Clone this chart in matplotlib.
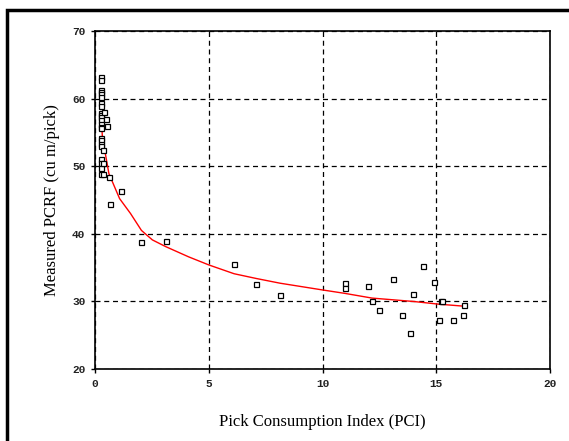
import matplotlib.pyplot as plt
from matplotlib.patches import Rectangle

# measured points
pci = [
	0.25, 0.25, 0.25, 0.25, 0.25, 0.25, 0.25, 0.25, 0.25, 0.25, 0.25, 0.25,
	0.25, 0.25, 0.25, 0.25, 0.25, 0.25, 0.25, 0.25, 0.25, 0.25, 0.25,
	0.41, 0.48, 0.53, 0.37, 0.33, 0.37, 0.61, 0.67, 1.13, 2.04, 3.11,
	6.11, 7.08, 8.13, 10.97, 10.97, 12.01, 12.17, 12.47, 13.08, 13.48,
	13.83, 13.99, 14.39, 14.90, 15.10, 15.20, 15.26, 15.73, 16.17, 16.22,
]
pcrf = [
	63.2, 62.7, 61.3, 61.0, 60.7, 60.2, 59.4, 58.9, 57.8, 57.5, 57.3, 56.8,
	56.3, 55.8, 55.6, 54.1, 53.8, 53.3, 53.0, 51.1, 50.4, 49.7, 48.9,
	58.0, 56.9, 55.9, 52.4, 50.5, 48.9, 48.4, 44.4, 46.4, 38.8, 39.0,
	35.6, 32.6, 30.9, 32.8, 32.0, 32.3, 30.0, 28.8, 33.3, 28.0,
	25.4, 31.1, 35.2, 32.9, 27.2, 30.1, 30.1, 27.2, 28.0, 29.5,
]

# fitted trend line
fit_x = [0.29, 0.33, 0.45, 0.61, 1.08, 1.56, 2.04, 2.52, 3.11, 4.11, 5.0,
	6.11, 7.08, 8.13, 10.0, 10.97, 12.17, 13.99, 15.1, 16.22]
fit_y = [56.5, 53.8, 51.9, 48.9, 45.2, 43.0, 40.5, 39.1, 38.1, 36.6, 35.4,
	34.1, 33.4, 32.7, 31.7, 31.2, 30.5, 30.0, 29.6, 29.3]

x_ticks = [0, 5, 10, 15, 20]
y_ticks = [20, 30, 40, 50, 60, 70]

fig = plt.figure(figsize=(5.69, 4.41), dpi=100)
ax = fig.add_axes([0.167, 0.163, 0.800, 0.767])

# outer frame
fig.patches.append(Rectangle((0.013, -0.2), 1.2, 1.178, transform=fig.transFigure,
	fill=False, edgecolor='black', linewidth=2.5))

ax.plot(fit_x, fit_y, color='red', linewidth=1, zorder=3)
ax.plot(pci, pcrf, linestyle='none', marker='s', markersize=3.6,
	markerfacecolor='white', markeredgecolor='black', markeredgewidth=0.9, zorder=4)

ax.set_xlim(0, 20)
ax.set_ylim(20, 70)
ax.set_xticks(x_ticks)
ax.set_yticks(y_ticks)
ax.grid(True, color='black', linestyle=(0, (4, 3)), linewidth=0.9)
ax.set_axisbelow(True)

for side in ['top', 'right']:
	ax.spines[side].set_linestyle((0, (3, 1)))
	ax.spines[side].set_linewidth(1.2)
for side in ['left', 'bottom']:
	ax.spines[side].set_linewidth(1.2)

ax.tick_params(direction='out', length=3, width=1, pad=4)
for lab in ax.get_xticklabels() + ax.get_yticklabels():
	lab.set_family('Liberation Mono')
	lab.set_weight('bold')
	lab.set_fontsize(8)
	lab.set_color('#222222')

ax.set_xlabel('Pick Consumption Index (PCI)', family='Liberation Serif', fontsize=12, labelpad=18)
ax.set_ylabel('Measured PCRF (cu m/pick)', family='Liberation Serif', fontsize=12, labelpad=9)

plt.savefig('out.png', dpi=100)
